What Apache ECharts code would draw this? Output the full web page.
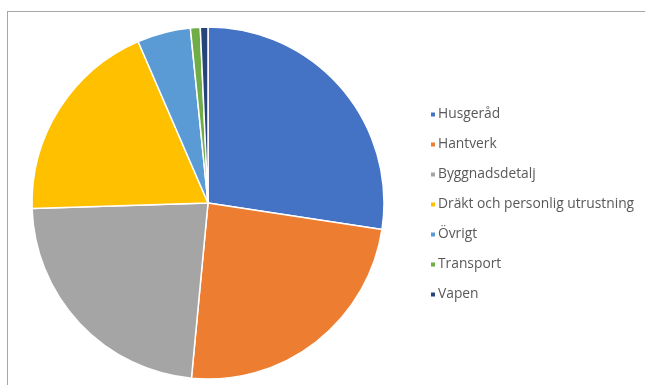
<!DOCTYPE html>
<html><head><meta charset="utf-8">
<script src="https://cdn.jsdelivr.net/npm/echarts@6/dist/echarts.min.js"></script>
<style>
html,body{margin:0;padding:0;background:#fff;}
#frame{position:absolute;left:7px;top:11px;width:700px;height:400px;border:1px solid #a6a6a6;}
#c{position:absolute;left:0;top:0;width:645px;height:385px;}
</style></head>
<body>
<div id="frame"></div>
<div id="c"></div>
<script>
const categories = ["Husgeråd","Hantverk","Byggnadsdetalj","Dräkt och personlig utrustning","Övrigt","Transport","Vapen"];
const values = [27.4, 24.1, 23.0, 19.0, 4.9, 0.9, 0.7];
const colors = ["#4472C4","#ED7D31","#A5A5A5","#FFC000","#5B9BD5","#70AD47","#264478"];

const chart = echarts.init(document.getElementById('c'), null, {renderer:'canvas'});
chart.setOption({
  animation:false,
  color: colors,
  legend:{
    orient:'vertical', left:424, top:101,
    icon:'rect', itemWidth:6, itemHeight:6, itemGap:13,
    textStyle:{fontFamily:'Open Sans', fontSize:13.8, color:'#595959', lineHeight:17, padding:[0,0,0,-3]},
    data: categories
  },
  series:[{
    type:'pie', center:[208,203], radius:[0,176], startAngle:90, clockwise:true,
    label:{show:false}, labelLine:{show:false},
    itemStyle:{borderColor:'#fff', borderWidth:1.5},
    data: categories.map((n,i)=>({name:n, value:values[i]}))
  }]
});
</script>
</body></html>
